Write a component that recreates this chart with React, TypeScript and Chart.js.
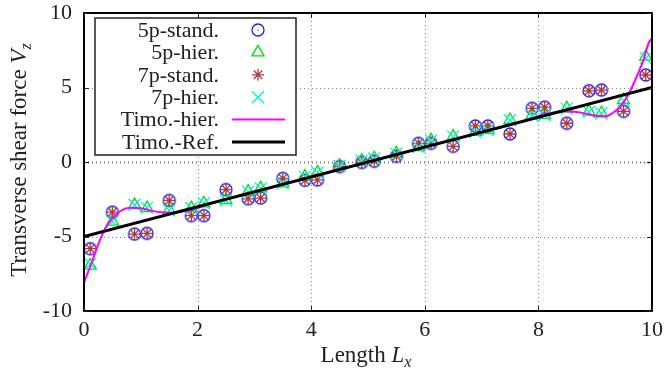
import React, { useEffect, useRef } from "react";
import { Chart, registerables } from "chart.js";
Chart.register(...registerables);

// Sample positions (Gauss points) along the length
const gaussX = [0.11, 0.5, 0.89, 1.11, 1.5, 1.89, 2.11, 2.5, 2.89, 3.11, 3.5, 3.89, 4.11, 4.5, 4.89, 5.11, 5.5, 5.89, 6.11, 6.5, 6.89, 7.11, 7.5, 7.89, 8.11, 8.5, 8.89, 9.11, 9.5, 9.89];
const stand5 = [-5.82, -3.37, -4.84, -4.79, -2.58, -3.6, -3.6, -1.85, -2.47, -2.42, -1.1, -1.23, -1.2, -0.31, -0.03, 0.05, 0.38, 1.25, 1.25, 1.05, 2.42, 2.42, 1.88, 3.6, 3.68, 2.6, 4.78, 4.83, 3.4, 5.84];
const hier5 = [-6.95, -4.0, -2.89, -3.1, -3.22, -3.1, -2.77, -2.55, -1.99, -1.77, -1.43, -0.98, -0.7, -0.25, 0.1, 0.25, 0.58, 1.0, 1.45, 1.7, 2.03, 2.15, 2.82, 3.15, 3.15, 3.6, 3.38, 3.27, 4.16, 7.07];
const stand7 = [-5.82, -3.37, -4.84, -4.79, -2.58, -3.6, -3.6, -1.85, -2.47, -2.42, -1.1, -1.23, -1.2, -0.31, -0.03, 0.05, 0.38, 1.25, 1.25, 1.05, 2.42, 2.42, 1.88, 3.6, 3.68, 2.6, 4.78, 4.83, 3.4, 5.84];
const hier7 = [-6.85, -4.0, -2.89, -3.08, -3.25, -3.1, -2.77, -2.58, -1.99, -1.78, -1.45, -0.98, -0.72, -0.27, 0.08, 0.23, 0.56, 1.0, 1.43, 1.7, 2.01, 2.15, 2.8, 3.14, 3.15, 3.58, 3.36, 3.26, 4.12, 6.97];

// Timoshenko hierarchic curve
const timoHierX = [0, 0.14, 0.26, 0.375, 0.5, 0.64, 0.82, 1.0, 1.2, 1.37, 1.55, 1.73, 1.9, 2.1, 2.5, 3, 4, 5, 6, 7, 7.5, 7.9, 8.1, 8.27, 8.45, 8.63, 8.8, 9.0, 9.18, 9.3, 9.44, 9.58, 9.73, 9.85, 9.94, 10];
const timoHierY = [-8.1, -6.7, -5.45, -4.45, -3.78, -3.29, -3.07, -3.1, -3.28, -3.38, -3.4, -3.33, -3.2, -2.95, -2.5, -2.0, -1.0, 0, 1.0, 2.0, 2.5, 2.95, 3.2, 3.33, 3.4, 3.38, 3.28, 3.1, 3.07, 3.27, 3.71, 4.5, 5.72, 6.85, 7.97, 8.3];

// Timoshenko reference
const timoRefX = [0, 10];
const timoRefY = [-5, 5];

const xTicks = [0, 2, 4, 6, 8, 10];
const yTicks = [-10, -5, 0, 5, 10];

const legendLabels = ["5p-stand.", "5p-hier.", "7p-stand.", "7p-hier.", "Timo.-hier.", "Timo.-Ref."];

const BLUE = "#1a1aff";
const GREEN = "#00e000";
const BROWN = "#b03a3a";
const CYAN = "#00f0f0";
const MAGENTA = "#ff00ff";
const FONT = '"Liberation Serif", "Times New Roman", serif';

function pts(xs: number[], ys: number[]) {
  return xs.map((x, i) => ({ x, y: ys[i] }));
}

function makeCircleImg(color: string) {
  const c = document.createElement("canvas");
  c.width = 16;
  c.height = 16;
  const g = c.getContext("2d")!;
  g.strokeStyle = color;
  g.lineWidth = 1.3;
  g.beginPath();
  g.arc(8, 8, 6, 0, Math.PI * 2);
  g.stroke();
  g.fillStyle = color;
  g.fillRect(7.5, 7.5, 1.2, 1.2);
  return c;
}

function drawTriangle(ctx: CanvasRenderingContext2D, x: number, y: number, r: number, color: string) {
  ctx.save();
  ctx.strokeStyle = color;
  ctx.lineWidth = 1.3;
  ctx.beginPath();
  let rad = 0;
  ctx.moveTo(x + Math.sin(rad) * r, y - Math.cos(rad) * r);
  rad += (2 * Math.PI) / 3;
  ctx.lineTo(x + Math.sin(rad) * r, y - Math.cos(rad) * r);
  rad += (2 * Math.PI) / 3;
  ctx.lineTo(x + Math.sin(rad) * r, y - Math.cos(rad) * r);
  ctx.closePath();
  ctx.stroke();
  ctx.restore();
}

function drawStar(ctx: CanvasRenderingContext2D, x: number, y: number, r: number, color: string, cross: boolean, rot: boolean) {
  ctx.save();
  ctx.strokeStyle = color;
  ctx.lineWidth = 1.3;
  ctx.beginPath();
  if (cross) {
    ctx.moveTo(x - r, y);
    ctx.lineTo(x + r, y);
    ctx.moveTo(x, y - r);
    ctx.lineTo(x, y + r);
  }
  if (rot) {
    const d = r * Math.SQRT1_2;
    ctx.moveTo(x - d, y - d);
    ctx.lineTo(x + d, y + d);
    ctx.moveTo(x - d, y + d);
    ctx.lineTo(x + d, y - d);
  }
  ctx.stroke();
  ctx.restore();
}

function drawMixed(
  ctx: CanvasRenderingContext2D,
  cx: number,
  cy: number,
  plain: string,
  ital: string,
  sub: string,
  size: number
) {
  const fPlain = `${size}px ${FONT}`;
  const fItal = `italic ${size}px ${FONT}`;
  const fSub = `italic ${Math.round(size * 0.7)}px ${FONT}`;
  ctx.font = fPlain;
  const w1 = ctx.measureText(plain).width;
  ctx.font = fItal;
  const w2 = ctx.measureText(ital).width;
  ctx.font = fSub;
  const w3 = ctx.measureText(sub).width;
  const total = w1 + w2 + w3;
  let x = cx - total / 2;
  ctx.textBaseline = "alphabetic";
  ctx.textAlign = "left";
  const base = cy + size * 0.33;
  ctx.font = fPlain;
  ctx.fillText(plain, x, base);
  x += w1;
  ctx.font = fItal;
  ctx.fillText(ital, x, base);
  x += w2;
  ctx.font = fSub;
  ctx.fillText(sub, x, base + size * 0.22);
}

export default function App() {
  const ref = useRef<HTMLCanvasElement | null>(null);

  useEffect(() => {
    document.body.style.margin = "0";
    const canvas = ref.current!;
    const circleImg = makeCircleImg(BLUE);

    const overlay = {
      id: "overlay",
      beforeDatasetsDraw(chart: any) {
        const { ctx, chartArea: a, scales } = chart;
        ctx.save();
        ctx.strokeStyle = "#8a8a8a";
        ctx.lineWidth = 1;
        ctx.setLineDash([1, 3]);
        for (const v of xTicks) {
          if (v === 0 || v === 10) continue;
          const px = Math.round(scales.x.getPixelForValue(v)) + 0.5;
          ctx.beginPath();
          ctx.moveTo(px, a.top);
          ctx.lineTo(px, a.bottom);
          ctx.stroke();
        }
        for (const v of yTicks) {
          if (v === -10 || v === 10) continue;
          const py = Math.round(scales.y.getPixelForValue(v)) + 0.5;
          ctx.beginPath();
          ctx.lineWidth = v === 0 ? 2 : 1;
          ctx.strokeStyle = v === 0 ? "#777" : "#8a8a8a";
          ctx.moveTo(a.left, py);
          ctx.lineTo(a.right, py);
          ctx.stroke();
        }
        ctx.restore();
      },
      afterDraw(chart: any) {
        const { ctx, chartArea: a, scales } = chart;
        ctx.save();
        // frame
        ctx.strokeStyle = "#000";
        ctx.lineWidth = 2;
        ctx.setLineDash([]);
        ctx.strokeRect(a.left, a.top, a.right - a.left, a.bottom - a.top);
        // inward ticks
        ctx.lineWidth = 1;
        ctx.strokeStyle = "#222";
        for (const v of xTicks) {
          const px = Math.round(scales.x.getPixelForValue(v)) + 0.5;
          ctx.beginPath();
          ctx.moveTo(px, a.bottom);
          ctx.lineTo(px, a.bottom - 5);
          ctx.moveTo(px, a.top);
          ctx.lineTo(px, a.top + 5);
          ctx.stroke();
        }
        for (const v of yTicks) {
          const py = Math.round(scales.y.getPixelForValue(v)) + 0.5;
          ctx.beginPath();
          ctx.moveTo(a.left, py);
          ctx.lineTo(a.left + 5, py);
          ctx.moveTo(a.right, py);
          ctx.lineTo(a.right - 5, py);
          ctx.stroke();
        }
        // axis titles
        ctx.fillStyle = "#222";
        drawMixed(ctx, 366, 354, "Length ", "L", "x", 23);
        ctx.save();
        ctx.translate(18, 160);
        ctx.rotate(-Math.PI / 2);
        drawMixed(ctx, 0, 0, "Transverse shear force ", "V", "z", 23);
        ctx.restore();

        // legend
        const bx = 95, by = 18, bw = 201, bh = 137;
        ctx.fillStyle = "#fff";
        ctx.fillRect(bx, by, bw, bh);
        ctx.strokeStyle = "#222";
        ctx.lineWidth = 1.5;
        ctx.strokeRect(bx, by, bw, bh);
        ctx.fillStyle = "#222";
        ctx.font = `22px ${FONT}`;
        ctx.textAlign = "right";
        ctx.textBaseline = "middle";
        const textR = 219;
        const symX = 258;
        for (let i = 0; i < legendLabels.length; i++) {
          const y = 30 + i * 22.4;
          ctx.fillStyle = "#222";
          ctx.fillText(legendLabels[i], textR, y + 1);
          if (i === 0) ctx.drawImage(circleImg, symX - 8, y - 8);
          if (i === 1) drawTriangle(ctx, symX, y, 7, GREEN);
          if (i === 2) drawStar(ctx, symX, y, 6, BROWN, true, true);
          if (i === 3) drawStar(ctx, symX, y, 8.5, CYAN, false, true);
          if (i === 4 || i === 5) {
            ctx.save();
            ctx.strokeStyle = i === 4 ? MAGENTA : "#000";
            ctx.lineWidth = i === 4 ? 2 : 3;
            ctx.beginPath();
            ctx.moveTo(232, y);
            ctx.lineTo(285, y);
            ctx.stroke();
            ctx.restore();
          }
        }
        ctx.restore();
      },
    };

    const chart = new Chart(canvas, {
      type: "scatter",
      data: {
        datasets: [
          {
            label: legendLabels[0],
            data: pts(gaussX, stand5),
            pointStyle: circleImg as any,
            pointRadius: 6.5,
            borderColor: BLUE,
            backgroundColor: "transparent",
            showLine: false,
            order: 6,
          },
          {
            label: legendLabels[1],
            data: pts(gaussX, hier5),
            pointStyle: "triangle",
            pointRadius: 7,
            borderWidth: 1.3,
            borderColor: GREEN,
            backgroundColor: "transparent",
            showLine: false,
            order: 5,
          },
          {
            label: legendLabels[2],
            data: pts(gaussX, stand7),
            pointStyle: "star",
            pointRadius: 6,
            borderWidth: 1.3,
            borderColor: BROWN,
            backgroundColor: "transparent",
            showLine: false,
            order: 4,
          },
          {
            label: legendLabels[3],
            data: pts(gaussX, hier7),
            pointStyle: "crossRot",
            pointRadius: 8.5,
            borderWidth: 1.3,
            borderColor: CYAN,
            backgroundColor: "transparent",
            showLine: false,
            order: 3,
          },
          {
            label: legendLabels[4],
            data: pts(timoHierX, timoHierY),
            showLine: true,
            pointRadius: 0,
            borderColor: MAGENTA,
            borderWidth: 2,
            cubicInterpolationMode: "monotone",
            order: 2,
          } as any,
          {
            label: legendLabels[5],
            data: pts(timoRefX, timoRefY),
            showLine: true,
            pointRadius: 0,
            borderColor: "#000",
            borderWidth: 3,
            order: 1,
          },
        ],
      },
      options: {
        animation: false,
        responsive: false,
        devicePixelRatio: 1,
        layout: { padding: { top: 13, right: 13, left: 0, bottom: 0 } },
        plugins: { legend: { display: false }, tooltip: { enabled: false } },
        scales: {
          x: {
            type: "linear",
            min: 0,
            max: 10,
            afterFit: (s: any) => {
              s.height = 59;
              s.paddingLeft = 0;
              s.paddingRight = 0;
            },
            afterBuildTicks: (s: any) => {
              s.ticks = xTicks.map((v) => ({ value: v }));
            },
            grid: { display: false, drawTicks: false },
            border: { display: false },
            ticks: {
              padding: 6,
              color: "#222",
              font: { family: FONT, size: 22 },
              callback: (v: any) => String(v),
              maxRotation: 0,
            },
          },
          y: {
            type: "linear",
            min: -10,
            max: 10,
            afterFit: (s: any) => {
              s.width = 84;
              s.paddingTop = 0;
              s.paddingBottom = 0;
            },
            afterBuildTicks: (s: any) => {
              s.ticks = yTicks.map((v) => ({ value: v }));
            },
            grid: { display: false, drawTicks: false },
            border: { display: false },
            ticks: {
              padding: 12,
              color: "#222",
              font: { family: FONT, size: 22 },
              callback: (v: any) => String(v),
            },
          },
        },
      },
      plugins: [overlay],
    });
    return () => chart.destroy();
  }, []);

  return (
    <div style={{ width: 665, height: 370, background: "#fff" }}>
      <canvas ref={ref} width={665} height={370} style={{ display: "block" }} />
    </div>
  );
}
